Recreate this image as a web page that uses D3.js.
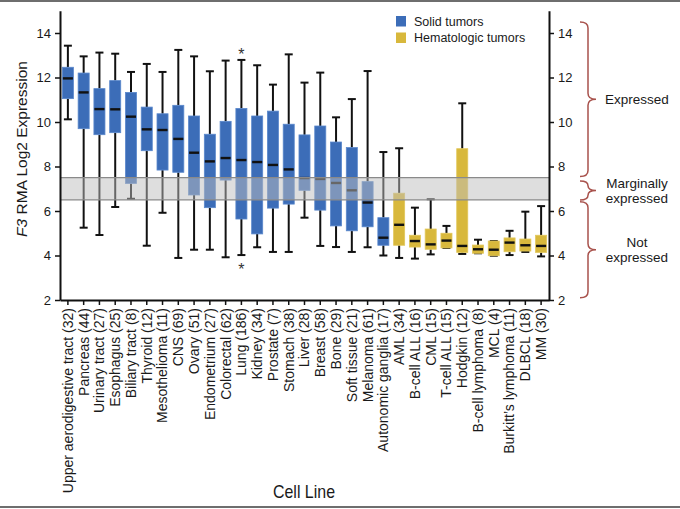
<!DOCTYPE html>
<html>
<head>
<meta charset="utf-8">
<script src="https://cdn.jsdelivr.net/npm/d3@7"></script>
<style>
  html, body { margin: 0; padding: 0; background: #fff; }
  svg { display: block; }
  text { font-family: "Liberation Sans", Arial, Helvetica, sans-serif; fill: #1a1a1a; }
</style>
</head>
<body>
<svg id="chart" width="680" height="509"></svg>
<script>
// ---------- data ----------
const categories = [
  "Upper aerodigestive tract (32)", "Pancreas (44)", "Urinary tract (27)", "Esophagus (25)",
  "Biliary tract (8)", "Thyroid (12)", "Mesothelioma (11)", "CNS (69)", "Ovary (51)",
  "Endometrium (27)", "Colorectal (62)", "Lung (186)", "Kidney (34)", "Prostate (7)",
  "Stomach (38)", "Liver (28)", "Breast (58)", "Bone (29)", "Soft tissue (21)",
  "Melanoma (61)", "Autonomic ganglia (17)", "AML (34)", "B-cell ALL (16)", "CML (15)",
  "T-cell ALL (15)", "Hodgkin (12)", "B-cell lymphoma (8)", "MCL (4)",
  "Burkitt\u2019s lymphoma (11)", "DLBCL (18)", "MM (30)"
];
const groups = [
  "Solid tumors","Solid tumors","Solid tumors","Solid tumors","Solid tumors","Solid tumors",
  "Solid tumors","Solid tumors","Solid tumors","Solid tumors","Solid tumors","Solid tumors",
  "Solid tumors","Solid tumors","Solid tumors","Solid tumors","Solid tumors","Solid tumors",
  "Solid tumors","Solid tumors","Solid tumors",
  "Hematologic tumors","Hematologic tumors","Hematologic tumors","Hematologic tumors",
  "Hematologic tumors","Hematologic tumors","Hematologic tumors","Hematologic tumors",
  "Hematologic tumors","Hematologic tumors"
];
const whiskerHigh = [13.43,12.95,13.12,13.07,12.25,12.61,12.25,13.24,12.95,12.28,12.76,12.79,12.55,11.68,13.04,11.77,12.22,10.21,11.03,12.29,8.65,8.82,6.15,6.53,5.33,10.84,4.71,4.65,5.11,5.97,6.22];
const q3          = [12.46,12.20,11.50,11.86,11.33,10.67,10.37,10.75,10.27, 9.45,10.03,10.61,10.27,10.49, 9.90, 9.42, 9.82, 9.10, 8.85, 7.32,5.70,6.80,4.91,5.19,5.00, 8.80,4.47,4.65,4.79,4.74,4.91];
const medians     = [11.96,11.33,10.58,10.57,10.24, 9.67, 9.64, 9.24, 8.62, 8.23, 8.38, 8.29, 8.20, 8.07, 7.87, 7.48, 7.44, 7.26, 6.93, 6.38,4.80,5.38,4.65,4.50,4.67, 4.43,4.28,4.26,4.58,4.46,4.43];
const q1          = [11.05, 9.70, 9.43, 9.52, 7.24, 8.71, 7.84, 7.74, 6.72, 6.15, 7.39, 5.64, 4.97, 6.13, 6.31, 6.93, 6.04, 5.33, 5.11, 5.29,4.46,4.46,4.38,4.28,4.34, 4.14,4.10,3.99,4.17,4.20,4.14];
const whiskerLow  = [10.12, 5.25, 4.92, 6.18, 6.55, 4.44, 5.92, 3.89, 4.26, 4.26, 3.92, 4.02, 4.37, 4.16, 4.16, 5.70, 4.43, 4.38, 4.16, 4.37,4.00,3.89,3.86,4.05,4.34, 4.07,4.10,3.99,4.02,4.16,3.96];
const outlierCategory = ["Lung (186)", "Lung (186)"];
const outlierValues = [13.2, 3.53];
const yTicks = [2, 4, 6, 8, 10, 12, 14];
const legendLabels = ["Solid tumors", "Hematologic tumors"];
const marginalBand = [6.5, 7.5];
const braceLabels = [["Expressed"], ["Marginally", "expressed"], ["Not", "expressed"]];
const braceRanges = [[7.55, 14.5], [6.5, 7.35], [2.1, 6.42]];

// ---------- layout ----------
const svg = d3.select("#chart");
const pLeft = 60, pRight = 549, pTop = 10, pBottom = 300;
const colors = { "Solid tumors": "#3c6db8", "Hematologic tumors": "#d8b83c" };
const strokes = { "Solid tumors": "#5a88cc", "Hematologic tumors": "#e2c75a" };

const x = d3.scaleBand().domain(categories).range([pLeft, pRight]).paddingInner(0.3).paddingOuter(0.15);
const y = d3.scaleLinear().domain([2, 15]).range([pBottom, pTop + 0.75]);

// frame lines
svg.append("line").attr("x1", 0).attr("x2", 680).attr("y1", 1).attr("y2", 1).attr("stroke", "#6e6e6e").attr("stroke-width", 2);
svg.append("line").attr("x1", 0).attr("x2", 680).attr("y1", 507).attr("y2", 507).attr("stroke", "#6e6e6e").attr("stroke-width", 2);

const rows = categories.map((c, i) => ({
  c, g: groups[i], lo: whiskerLow[i], q1: q1[i], med: medians[i], q3: q3[i], hi: whiskerHigh[i]
}));

const bw = x.bandwidth();
const cap = 8;
const gBox = svg.append("g");
rows.forEach(d => {
  const cx = x(d.c) + bw / 2;
  gBox.append("line").attr("x1", cx).attr("x2", cx).attr("y1", y(d.hi)).attr("y2", y(d.q3)).attr("stroke", "#111").attr("stroke-width", 2);
  gBox.append("line").attr("x1", cx).attr("x2", cx).attr("y1", y(d.q1)).attr("y2", y(d.lo)).attr("stroke", "#111").attr("stroke-width", 2);
  gBox.append("line").attr("x1", cx - cap / 2).attr("x2", cx + cap / 2).attr("y1", y(d.hi)).attr("y2", y(d.hi)).attr("stroke", "#111").attr("stroke-width", 2);
  gBox.append("line").attr("x1", cx - cap / 2).attr("x2", cx + cap / 2).attr("y1", y(d.lo)).attr("y2", y(d.lo)).attr("stroke", "#111").attr("stroke-width", 2);
  gBox.append("rect").attr("x", x(d.c)).attr("width", bw)
    .attr("y", y(d.q3)).attr("height", Math.max(1, y(d.q1) - y(d.q3)))
    .attr("fill", colors[d.g]).attr("stroke", strokes[d.g]).attr("stroke-width", 0.8);
  gBox.append("line").attr("x1", x(d.c) + 0.5).attr("x2", x(d.c) + bw - 0.5).attr("y1", y(d.med)).attr("y2", y(d.med)).attr("stroke", "#111").attr("stroke-width", 2.4);
});

// outliers (asterisks)
outlierValues.forEach((v, i) => {
  svg.append("text").attr("x", x(outlierCategory[i]) + bw / 2).attr("y", y(v) + 9)
    .attr("text-anchor", "middle").attr("font-size", 16).style("fill", "#333").text("*");
});

// marginal band (drawn over boxes, translucent)
svg.append("rect").attr("x", pLeft).attr("width", pRight - pLeft)
  .attr("y", y(marginalBand[1])).attr("height", y(marginalBand[0]) - y(marginalBand[1]))
  .attr("fill", "#bdbdbd").attr("fill-opacity", 0.5);
marginalBand.forEach(v => {
  svg.append("line").attr("x1", pLeft).attr("x2", pRight).attr("y1", y(v)).attr("y2", y(v))
    .attr("stroke", "#8a8a8a").attr("stroke-width", 1.3);
});

// axes
const yAxisL = d3.axisLeft(y).tickValues(yTicks).tickSize(5).tickSizeOuter(0).tickPadding(4);
const yAxisR = d3.axisRight(y).tickValues(yTicks).tickSize(5).tickSizeOuter(0).tickPadding(4);
const gL = svg.append("g").attr("transform", `translate(${pLeft},0)`).call(yAxisL);
const gR = svg.append("g").attr("transform", `translate(${pRight},0)`).call(yAxisR);
[gL, gR].forEach(g => {
  g.select(".domain").attr("stroke", "#111").attr("stroke-width", 2);
  g.selectAll(".tick line").attr("stroke", "#111").attr("stroke-width", 1.5);
  g.selectAll(".tick text").attr("font-size", 13).style("font-family", '"Liberation Sans", Arial, sans-serif').style("fill", "#1a1a1a");
});

const xAxis = d3.axisBottom(x).tickSize(5).tickSizeOuter(0).tickPadding(3);
const gX = svg.append("g").attr("transform", `translate(0,${pBottom})`).call(xAxis);
gX.select(".domain").attr("stroke", "#111").attr("stroke-width", 2);
gX.selectAll(".tick line").attr("stroke", "#111").attr("stroke-width", 1.5);
gX.selectAll(".tick text")
  .attr("font-size", 14).style("font-family", '"Liberation Sans", Arial, sans-serif').style("fill", "#1a1a1a")
  .attr("transform", "rotate(-90)")
  .attr("text-anchor", "end")
  .attr("x", -8).attr("y", 0).attr("dy", "0.35em");

// axis titles
const yt = svg.append("text").attr("transform", "translate(27,149) rotate(-90)")
  .attr("text-anchor", "middle").attr("font-size", 15.5);
yt.append("tspan").style("font-style", "italic").text("F3");
yt.append("tspan").text(" RMA Log2 Expression");

svg.append("text").attr("x", 304).attr("y", 498).attr("text-anchor", "middle")
  .attr("font-size", 18.5).attr("textLength", 62).attr("lengthAdjust", "spacingAndGlyphs")
  .style("font-family", '"Liberation Sans Narrow", "Arial Narrow", "Liberation Sans", Arial, sans-serif')
  .text("Cell Line");

// legend
legendLabels.forEach((l, i) => {
  svg.append("rect").attr("x", 396).attr("y", 16 + i * 16.5).attr("width", 10).attr("height", 10.5).attr("fill", colors[l]);
  svg.append("text").attr("x", 414).attr("y", 25.5 + i * 16.5).attr("font-size", 12.5).text(l);
});

// braces
const braceColor = "#a8524c";
const bx = 588;
braceRanges.forEach((r, i) => {
  const y1 = y(r[1]), y2 = y(r[0]), ym = (y1 + y2) / 2;
  const h = Math.min(6, (y2 - y1) / 4);
  const p = d3.path();
  p.moveTo(bx - 8, y1);
  p.quadraticCurveTo(bx, y1, bx, y1 + h);
  p.lineTo(bx, ym - h);
  p.quadraticCurveTo(bx, ym, bx + 8, ym);
  p.quadraticCurveTo(bx, ym, bx, ym + h);
  p.lineTo(bx, y2 - h);
  p.quadraticCurveTo(bx, y2, bx - 8, y2);
  svg.append("path").attr("d", p.toString()).attr("fill", "none").attr("stroke", braceColor).attr("stroke-width", 1.5);
  const lines = braceLabels[i];
  const t = svg.append("text").attr("text-anchor", "middle").attr("font-size", 13.5);
  const lh = 15.5;
  lines.forEach((s, j) => {
    t.append("tspan").attr("x", 637).attr("y", ym + 5 + (j - (lines.length - 1) / 2) * lh).text(s);
  });
});
</script>
</body>
</html>
